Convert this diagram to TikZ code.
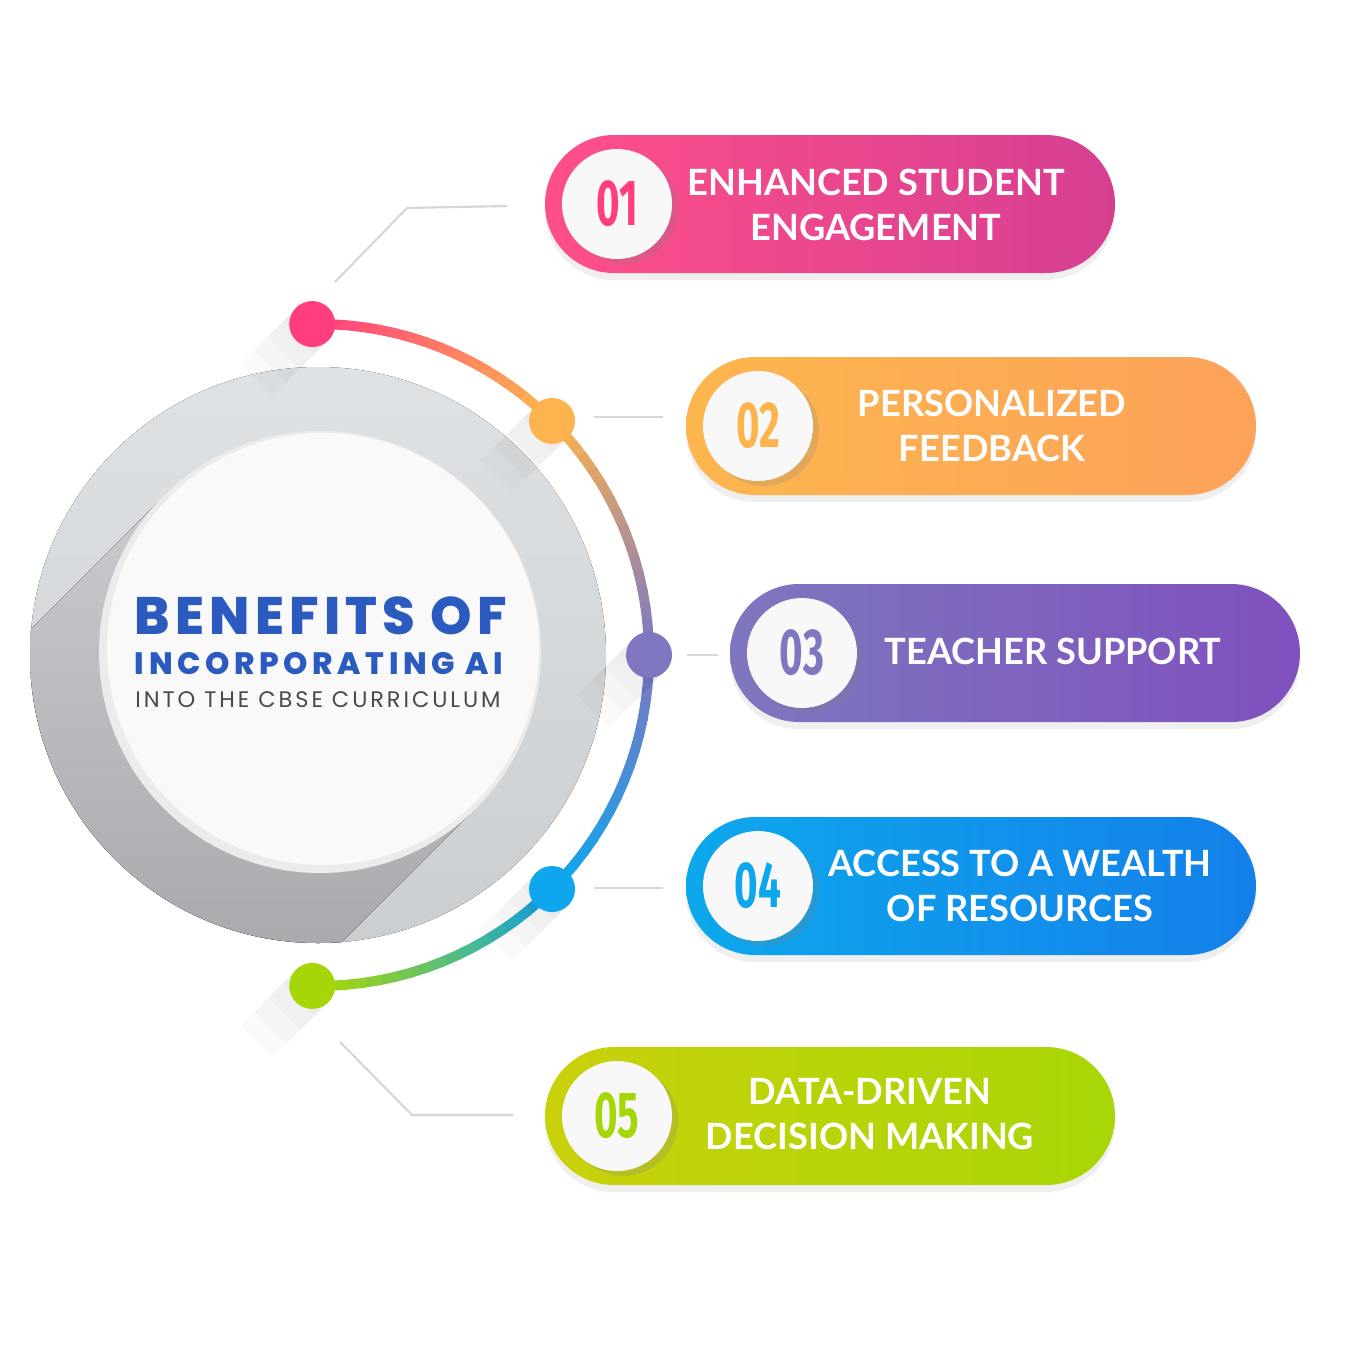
\documentclass[tikz,border=0pt]{standalone}
\usepackage{fontspec}
\usepackage{graphicx}
\setmainfont{Lato}
\newfontfamily\titlefont{Poppins ExtraBold}[LetterSpace=10]
\newfontfamily\titlefontB{Poppins ExtraBold}[LetterSpace=15]
\newfontfamily\subfont{Poppins}[LetterSpace=13]
\newfontfamily\numfont{Fira Sans}
\usetikzlibrary{positioning,calc,shadows}
\definecolor{cbpink}{HTML}{FF3D7F}
\definecolor{cborange}{HTML}{FDB44E}
\definecolor{cbpurple}{HTML}{7F78C1}
\definecolor{cbblue}{HTML}{0EA6EC}
\definecolor{cbgreen}{HTML}{A6D608}
\definecolor{cbpinkL}{HTML}{FF4F8A}
\definecolor{cbpinkR}{HTML}{D63F91}
\definecolor{cborangeL}{HTML}{FDB64E}
\definecolor{cborangeR}{HTML}{FDA25A}
\definecolor{cbpurpleL}{HTML}{7E77BE}
\definecolor{cbpurpleR}{HTML}{7F50BE}
\definecolor{cbblueL}{HTML}{0DA8EC}
\definecolor{cbblueR}{HTML}{1480EA}
\definecolor{cbgreenL}{HTML}{C9D10C}
\definecolor{cbgreenR}{HTML}{A8D606}
\definecolor{cbdiskT}{HTML}{DFE2E5}
\definecolor{cbdiskB}{HTML}{CBCED1}
\definecolor{cbshadeT}{HTML}{C8CACD}
\definecolor{cbshadeB}{HTML}{9A9B9E}
\definecolor{cbrim}{HTML}{EAEBED}
\definecolor{cbinner}{HTML}{F9F9FA}
\definecolor{cbwhite}{HTML}{F8F8F9}
\definecolor{cblink}{HTML}{D6D6D6}
\definecolor{cbtitle}{HTML}{2C5BC0}
\definecolor{cbsub}{HTML}{4A4A4A}

\begin{document}
\begin{tikzpicture}[x=0.1mm, y=-0.1mm,
  pill/.style={rounded corners=6.9mm, minimum width=57mm, minimum height=13.8mm, inner sep=0pt,
    drop shadow={shadow xshift=0mm, shadow yshift=-0.7mm, opacity=0.12}},
  numdisc/.style={circle, fill=cbwhite, minimum size=11mm, inner sep=0pt,
    font=\numfont\bfseries\fontsize{18.5}{18.5}\selectfont,
    drop shadow={shadow xshift=0.6mm, shadow yshift=-0.5mm, opacity=0.22}},
  itemtxt/.style={text=white, align=center, inner sep=0pt, font=\bfseries\fontsize{10.3}{12.8}\selectfont},
  dot/.style={circle, minimum size=4.6mm, inner sep=0pt},
  link/.style={draw=cblink, line width=0.6pt},
]
\path[use as bounding box, fill=white] (0,0) rectangle (1349,1349);

% big disc and its long shadow
\fill[top color=cbdiskT, bottom color=cbdiskB] (318,655) circle[radius=288];
\begin{scope}
  \clip (318,655) circle[radius=288];
  \fill[top color=cbshadeT, bottom color=cbshadeB] (164,496) -- (-190,850) -- (122,1162) -- (476,808) -- cycle;
\end{scope}
\fill[cbrim] (320,652) circle[radius=221];
\fill[cbinner] (323,649) circle[radius=216];

% title
\node[anchor=base, inner sep=0pt, text=cbtitle, font=\titlefont\fontsize{15}{15}\selectfont] (title1) at (321,634) {BENEFITS OF};
\node[anchor=base, inner sep=0pt, text=cbtitle, font=\titlefontB\fontsize{8.8}{8.8}\selectfont] (title2) at (319,674) {INCORPORATING AI};
\node[anchor=base, inner sep=0pt, text=cbsub, font=\subfont\fontsize{6.4}{6.4}\selectfont] (title3) at (318,707) {INTO THE CBSE CURRICULUM};

% gradient arc
\begin{scope}[shift={(318,655)}]
\foreach \s/\e/\ca/\cb in {-91/-45/cbpink/cborange, -45/0/cborange/cbpurple, 0/45/cbpurple/cbblue, 45/91/cbblue/cbgreen}{
  \foreach \k in {0,...,15}{
    \pgfmathsetmacro\angA{\s+(\e-\s)*\k/16}
    \pgfmathsetmacro\angB{\s+(\e-\s)*(\k+1)/16}
    \pgfmathtruncatemacro\mixpc{100-\k*100/15}
    \draw[line width=1mm, line cap=round, \ca!\mixpc!\cb] (\angA:331) -- (\angB:331);
  }
}
\end{scope}

% dots with soft long shadows
\foreach \n/\a/\c in {1/-91/cbpink, 2/-45/cborange, 3/0/cbpurple, 4/45/cbblue, 5/91/cbgreen}{
  \foreach \len in {14,28,42,56}{
    \fill[black, opacity=0.018] ($(318,655)+(\a:331)+(16,16)$) -- ++(-\len,\len) -- ++(-32,-32) -- ($(318,655)+(\a:331)+(-16,-16)$) -- cycle;
  }
  \node[dot, fill=\c] (d\n) at ($(318,655)+(\a:331)$) {};
}

% leader lines
\coordinate (l1a) at (335,282);
\coordinate (l1b) at (407,208);
\coordinate (l1c) at (507,206);
\coordinate (l2a) at (594,417);
\coordinate (l2b) at (663,417);
\coordinate (l3a) at (687,655);
\coordinate (l3b) at (718,655);
\coordinate (l4a) at (594,888);
\coordinate (l4b) at (663,888);
\coordinate (l5a) at (340,1042);
\coordinate (l5b) at (412,1115);
\coordinate (l5c) at (513,1115);
\draw[link] (l1a) -- (l1b) -- (l1c);
\draw[link] (l2a) -- (l2b);
\draw[link] (l3a) -- (l3b);
\draw[link] (l4a) -- (l4b);
\draw[link] (l5a) -- (l5b) -- (l5c);

% pills
\node[pill, left color=cbpinkL, right color=cbpinkR] (p1) at (830,204) {};
\node[pill, left color=cborangeL, right color=cborangeR] (p2) at (971,426) {};
\node[pill, left color=cbpurpleL, right color=cbpurpleR] (p3) at (1015,653) {};
\node[pill, left color=cbblueL, right color=cbblueR] (p4) at (971,886) {};
\node[pill, left color=cbgreenL, right color=cbgreenR] (p5) at (830,1116) {};

\node[numdisc, text=cbpink, right=1.7mm of p1.west] (n1) {\scalebox{0.62}[1]{01}};
\node[numdisc, text=cborange, right=1.7mm of p2.west] (n2) {\scalebox{0.62}[1]{02}};
\node[numdisc, text=cbpurple, right=1.7mm of p3.west] (n3) {\scalebox{0.62}[1]{03}};
\node[numdisc, text=cbblue, right=1.7mm of p4.west] (n4) {\scalebox{0.62}[1]{04}};
\node[numdisc, text=cbgreen, right=1.7mm of p5.west] (n5) {\scalebox{0.62}[1]{05}};

\node[itemtxt] (t1) at (876,205) {ENHANCED STUDENT\\ENGAGEMENT};
\node[itemtxt] (t2) at (992,426) {PERSONALIZED\\FEEDBACK};
\node[itemtxt] (t3) at (1053,651) {TEACHER SUPPORT};
\node[itemtxt] (t4) at (1020,886) {ACCESS TO A WEALTH\\OF RESOURCES};
\node[itemtxt] (t5) at (870,1114) {DATA-DRIVEN\\DECISION MAKING};
\end{tikzpicture}
\end{document}
